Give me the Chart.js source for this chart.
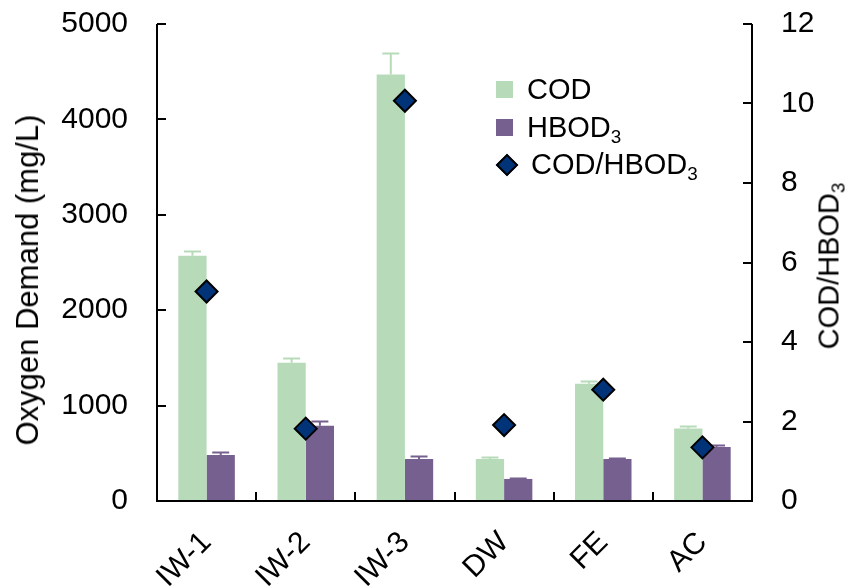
<!DOCTYPE html>
<html>
<head>
<meta charset="utf-8">
<script src="https://cdn.jsdelivr.net/npm/chart.js@4.4.1/dist/chart.umd.min.js"></script>
<style>
  html, body { margin: 0; padding: 0; background: #fff; }
  #wrap { position: relative; width: 857px; height: 588px; }
  .txt { font-family: "Liberation Sans", Arial, sans-serif; color: #000; white-space: nowrap; }
  #legend { position: absolute; left: 496px; top: 71px; font-size: 29px; }
  #legend .item { display: flex; align-items: center; height: 37.5px; }
  #legend .sw { width: 17px; height: 17px; margin-right: 14px; flex: none; }
  #legend .dia {
    width: 12px; height: 12px; margin: 0 16px 0 3px; transform: rotate(45deg); flex: none;
    background: #003378; border: 2px solid #000;
  }
  sub { font-size: 0.65em; vertical-align: -0.3em; line-height: 0; }
  .rot { position: absolute; transform: translate(-50%, -50%) rotate(-90deg); }
  #ltitle { left: 28px; top: 280px; font-size: 31px; }
  #rtitle { left: 829px; top: 266px; font-size: 29px; }
</style>
</head>
<body>
<div id="wrap">
  <canvas id="chart" width="857" height="588"></canvas>
  <div id="legend" class="txt">
    <div class="item"><span class="sw" style="background:#b7dbb9"></span><span>COD</span></div>
    <div class="item"><span class="sw" style="background:#76608f"></span><span>HBOD<sub>3</sub></span></div>
    <div class="item"><span class="dia"></span><span>COD/HBOD<sub>3</sub></span></div>
  </div>
  <div id="ltitle" class="txt rot">Oxygen Demand (mg/L)</div>
  <div id="rtitle" class="txt rot">COD/HBOD<sub>3</sub></div>
</div>
<script>
const categories = ['IW-1', 'IW-2', 'IW-3', 'DW', 'FE', 'AC'];
const codValues = [2570, 1450, 4470, 440, 1230, 760];
const codErrors = [50, 45, 230, 25, 25, 30];
const hbodValues = [483, 790, 440, 231, 441, 567];
const hbodErrors = [30, 45, 30, 10, 10, 20];
const ratioValues = [5.27, 1.82, 10.07, 1.91, 2.80, 1.35];
const leftTicks = [0, 1000, 2000, 3000, 4000, 5000];
const rightTicks = [0, 2, 4, 6, 8, 10, 12];

const FONT = '"Liberation Sans", Arial, sans-serif';
const COD_COLOR = '#b7dbb9';
const HBOD_COLOR = '#76608f';

const errorBars = {
  id: 'errorBars',
  afterDatasetDraw(chart, args) {
    const errs = [codErrors, hbodErrors][args.index];
    if (!errs) return;
    const ctx = chart.ctx;
    const y = chart.scales.y;
    const ds = chart.data.datasets[args.index];
    ctx.save();
    ctx.strokeStyle = ds.backgroundColor;
    ctx.lineWidth = 2;
    args.meta.data.forEach((bar, i) => {
      const top = Math.round(y.getPixelForValue(ds.data[i] + errs[i])) + 0.5;
      const half = bar.width * 0.3;
      ctx.beginPath();
      ctx.moveTo(bar.x, bar.y);
      ctx.lineTo(bar.x, top);
      ctx.moveTo(bar.x - half, top);
      ctx.lineTo(bar.x + half, top);
      ctx.stroke();
    });
    ctx.restore();
  }
};

// axis frame plus inward tick marks
const frame = {
  id: 'frame',
  afterDraw(chart) {
    const { ctx, chartArea: a, scales } = chart;
    ctx.save();
    ctx.strokeStyle = '#000';
    ctx.lineWidth = 2;
    ctx.beginPath();
    ctx.moveTo(a.left, a.top); ctx.lineTo(a.left, a.bottom); ctx.lineTo(a.right, a.bottom); ctx.lineTo(a.right, a.top);
    leftTicks.forEach(v => {
      const p = Math.round(scales.y.getPixelForValue(v));
      ctx.moveTo(a.left, p); ctx.lineTo(a.left + 9, p);
    });
    rightTicks.forEach(v => {
      const p = Math.round(scales.y2.getPixelForValue(v));
      ctx.moveTo(a.right, p); ctx.lineTo(a.right - 9, p);
    });
    const step = (a.right - a.left) / categories.length;
    for (let i = 1; i < categories.length; i++) {
      const p = Math.round(a.left + step * i);
      ctx.moveTo(p, a.bottom); ctx.lineTo(p, a.bottom - 9);
    }
    ctx.stroke();
    ctx.restore();
  }
};

function noPad(s) {
  s.paddingTop = 0; s.paddingBottom = 0; s.paddingLeft = 0; s.paddingRight = 0;
}

new Chart(document.getElementById('chart'), {
  data: {
    labels: categories,
    datasets: [
      {
        type: 'bar', label: 'COD', data: codValues, backgroundColor: COD_COLOR,
        yAxisID: 'y', order: 2, categoryPercentage: 0.57, barPercentage: 1
      },
      {
        type: 'bar', label: 'HBOD3', data: hbodValues, backgroundColor: HBOD_COLOR,
        yAxisID: 'y', order: 2, categoryPercentage: 0.57, barPercentage: 1
      },
      {
        type: 'line', label: 'COD/HBOD3', data: ratioValues, yAxisID: 'y2', order: 0,
        showLine: false, pointStyle: 'rectRot', pointRadius: 11,
        pointBackgroundColor: '#003378', pointBorderColor: '#000', pointBorderWidth: 2
      }
    ]
  },
  options: {
    responsive: false,
    animation: false,
    layout: { padding: { top: 24, left: 0, right: 0, bottom: 0 } },
    plugins: { legend: { display: false }, tooltip: { enabled: false } },
    scales: {
      x: {
        offset: true,
        grid: { display: false, drawTicks: false },
        border: { display: false },
        ticks: {
          font: { family: FONT, size: 30 }, color: '#000',
          maxRotation: 45, minRotation: 45, padding: 24
        },
        afterFit(s) { s.height = 87; noPad(s); }
      },
      y: {
        position: 'left', min: 0, max: 5000,
        grid: { display: false, drawTicks: false },
        border: { display: false },
        ticks: { stepSize: 1000, font: { family: FONT, size: 30 }, color: '#000', padding: 29, callback: v => String(v) },
        afterFit(s) { s.width = 157; noPad(s); }
      },
      y2: {
        position: 'right', min: 0, max: 12,
        grid: { display: false, drawTicks: false },
        border: { display: false },
        ticks: { stepSize: 2, font: { family: FONT, size: 30 }, color: '#000', padding: 29 },
        afterFit(s) { s.width = 105; noPad(s); }
      }
    }
  },
  plugins: [errorBars, frame]
});
</script>
</body>
</html>
